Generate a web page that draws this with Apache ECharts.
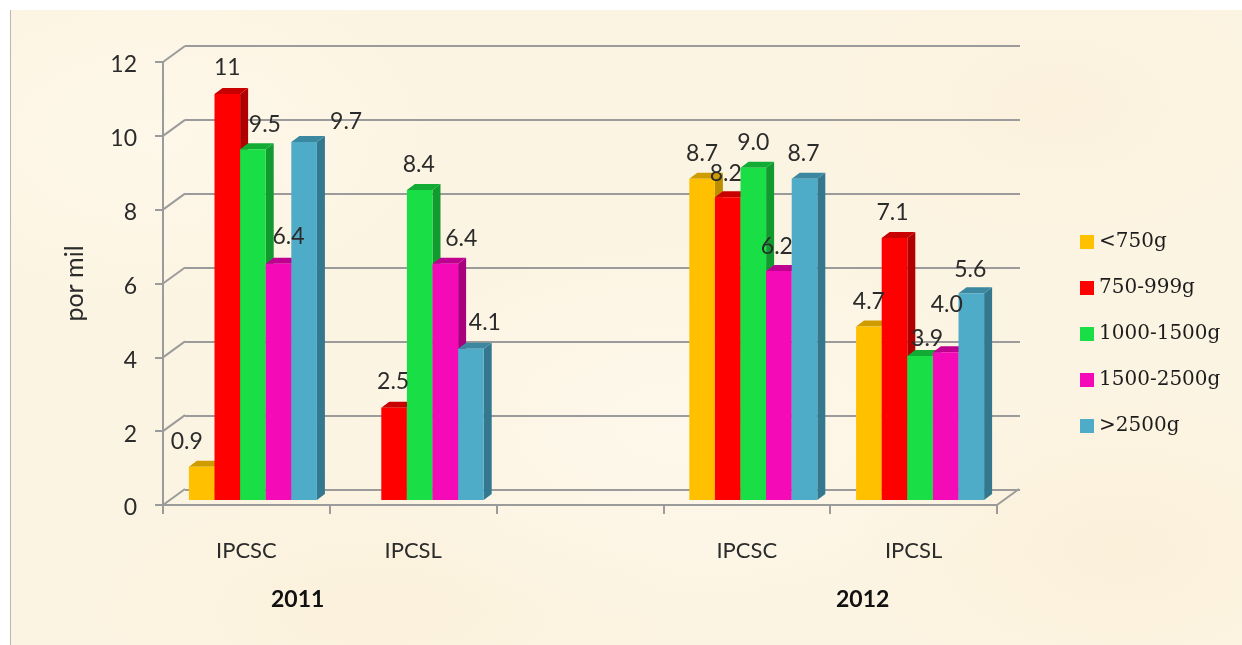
<!DOCTYPE html>
<html>
<head>
<meta charset="utf-8">
<title>por mil</title>
<script src="https://cdn.jsdelivr.net/npm/echarts@6/dist/echarts.min.js"></script>
<style>
  html, body { margin: 0; padding: 0; background: #fff; overflow: hidden; }
  #paper {
    position: absolute; left: 10px; top: 10px; width: 1232px; height: 635px;
    border-left: 1px solid #b9b6ae; box-sizing: border-box;
    background:
      radial-gradient(ellipse 300px 180px at 12% 20%, #fef8ea 0%, rgba(254,248,234,0) 100%),
      radial-gradient(ellipse 360px 200px at 55% 65%, #fef8ec 0%, rgba(254,248,236,0) 100%),
      radial-gradient(ellipse 280px 160px at 90% 85%, #fbf0da 0%, rgba(251,240,218,0) 100%),
      radial-gradient(ellipse 320px 140px at 30% 95%, #fbf1dc 0%, rgba(251,241,220,0) 100%),
      radial-gradient(ellipse 260px 160px at 85% 15%, #fbf1dd 0%, rgba(251,241,221,0) 100%),
      #fcf4e2;
  }
  #chart { position: absolute; left: 0; top: 0; width: 1242px; height: 645px; }
</style>
</head>
<body>
<div id="paper"></div>
<div id="chart"></div>
<script>
'use strict';

var categories = ['IPCSC', 'IPCSL', '', 'IPCSC', 'IPCSL'];
var yTicks = [0, 2, 4, 6, 8, 10, 12];
var weightClasses = ['<750g', '750-999g', '1000-1500g', '1500-2500g', '>2500g'];

var under750 = [0.9, null, null, 8.7, 4.7];
var from750 = [11, 2.5, null, 8.2, 7.1];
var from1000 = [9.5, 8.4, null, 9.0, 3.9];
var from1500 = [6.4, 6.4, null, 6.2, 4.0];
var over2500 = [9.7, 4.1, null, 8.7, 5.6];
var seriesValues = [under750, from750, from1000, from1500, over2500];

// front, top, side
var colors = [
  ['#ffc000', '#cf9c00', '#bd8f00'],
  ['#ff0000', '#c80000', '#b00000'],
  ['#1ade45', '#12ab34', '#119a2e'],
  ['#f50ab8', '#bd0090', '#a8007f'],
  ['#4facc9', '#3d88a1', '#347890']
];

// the labels in the picture are not all centred above their bars
var defaultLabelShift = [0, -25];
var labelShifts = {
  '0,0': [-15, -25],
  '1,0': [0, -26],
  '1,1': [-1, -26],
  '1,3': [-2, -24],
  '1,4': [-2, -25],
  '2,0': [12, -25],
  '2,1': [-1, -25],
  '2,4': [7, -17],
  '3,0': [10, -27],
  '3,1': [16, -25],
  '3,3': [-2, -25],
  '3,4': [1, -48],
  '4,0': [42, -20],
  '4,1': [14, -26],
  '4,3': [-1, -25],
  '4,4': [-1, -24]
};

var axisColor = '#9b9b9b';
var textColor = '#2b2b2b';
var barBaseLift = 5;      // bars stand a little behind the front axis
var barDepthX = 8;
var barDepthY = 6;
var wallDepthX = 22;
var wallDepthY = 16;

function pointsOf(seriesIndex) {
  var out = [];
  seriesValues[seriesIndex].forEach(function (v, i) {
    if (v !== null) out.push([i, v]);
  });
  return out;
}

function barRect(api, cat, value, seriesIndex) {
  var catW = api.size([1, 0])[0];
  var barW = catW * 0.1535;
  var center = api.coord([cat, 0])[0] + 6.5 + (seriesIndex - 2) * barW;
  return {
    x: center - barW / 2,
    w: barW,
    center: center,
    top: api.coord([cat, value])[1] - barBaseLift,
    base: api.coord([cat, 0])[1] - barBaseLift
  };
}

function makeBarRender(seriesIndex) {
  return function (params, api) {
    var r = barRect(api, api.value(0), api.value(1), seriesIndex);
    var c = colors[seriesIndex];
    return {
      type: 'group',
      children: [
        {
          type: 'polygon',
          shape: { points: [[r.x + r.w, r.top], [r.x + r.w + barDepthX, r.top - barDepthY], [r.x + r.w + barDepthX, r.base - barDepthY], [r.x + r.w, r.base]] },
          style: { fill: c[2] }
        },
        {
          type: 'polygon',
          shape: { points: [[r.x, r.top], [r.x + barDepthX, r.top - barDepthY], [r.x + r.w + barDepthX, r.top - barDepthY], [r.x + r.w, r.top]] },
          style: { fill: c[1] }
        },
        {
          type: 'rect',
          shape: { x: r.x, y: r.top, width: r.w, height: r.base - r.top },
          style: { fill: c[0] }
        }
      ]
    };
  };
}

function renderValueLabel(params, api) {
  var cat = api.value(0);
  var v = api.value(1);
  var s = api.value(2);
  var r = barRect(api, cat, v, s);
  var shift = labelShifts[s + ',' + cat] || defaultLabelShift;
  return {
    type: 'text',
    style: {
      text: v >= 10 ? String(v) : v.toFixed(1),
      x: r.center + shift[0],
      y: r.top + shift[1],
      align: 'center',
      verticalAlign: 'middle',
      font: '23px Lato',
      fill: textColor
    }
  };
}

// slanted side wall and floor edges joining the front axis to the back wall
function renderWallEdge(params, api) {
  var box = params.coordSys;
  var y = api.coord([0, api.value(0)])[1];
  var children = [{
    type: 'line',
    shape: { x1: box.x, y1: y, x2: box.x + wallDepthX, y2: y - wallDepthY },
    style: { stroke: axisColor, lineWidth: 2 }
  }];
  if (api.value(0) === 0) {
    children.push({
      type: 'line',
      shape: { x1: box.x + box.width, y1: y, x2: box.x + box.width + wallDepthX, y2: y - wallDepthY },
      style: { stroke: axisColor, lineWidth: 2 }
    });
  }
  return { type: 'group', children: children };
}

var barSeries = weightClasses.map(function (name, s) {
  return {
    name: name,
    type: 'custom',
    xAxisIndex: 0,
    yAxisIndex: 0,
    z: 5,
    itemStyle: { color: colors[s][0] },
    encode: { x: 0, y: 1 },
    renderItem: makeBarRender(s),
    data: pointsOf(s)
  };
});

var labelPoints = [];
seriesValues.forEach(function (vals, s) {
  pointsOf(s).forEach(function (p) {
    labelPoints.push([p[0], p[1], s]);
  });
});

var option = {
  animation: false,
  backgroundColor: 'transparent',
  textStyle: { fontFamily: 'Lato' },
  grid: [
    { left: 163, right: 245, top: 62, bottom: 140 },
    { left: 185, right: 222, top: 46, bottom: 155 }
  ],
  xAxis: [
    {
      type: 'category',
      gridIndex: 0,
      data: categories,
      axisLine: { lineStyle: { color: axisColor, width: 2 } },
      axisTick: { show: true, length: 9, lineStyle: { color: axisColor, width: 2 } },
      axisLabel: { interval: 0, margin: 35, fontSize: 22, color: textColor, fontFamily: 'Lato' }
    },
    {
      type: 'category',
      gridIndex: 1,
      data: categories,
      axisLine: { show: false },
      axisTick: { show: false },
      axisLabel: { show: false }
    }
  ],
  yAxis: [
    {
      type: 'value',
      gridIndex: 0,
      min: 0,
      max: 12,
      interval: 2,
      name: 'por mil',
      nameLocation: 'middle',
      nameRotate: 90,
      nameGap: 76,
      nameTextStyle: { fontSize: 25, color: textColor, fontFamily: 'Lato' },
      axisLine: { show: true, lineStyle: { color: axisColor, width: 2 } },
      axisTick: { show: true, length: 8, lineStyle: { color: axisColor, width: 2 } },
      axisLabel: {
        margin: 26,
        formatter: '{t|{value}}',
        rich: { t: { fontSize: 23, color: textColor, fontFamily: 'Lato', padding: [6, 0, 0, 0] } }
      },
      splitLine: { show: false }
    },
    {
      type: 'value',
      gridIndex: 1,
      min: 0,
      max: 12,
      interval: 2,
      axisLine: { show: false },
      axisTick: { show: false },
      axisLabel: { show: false },
      splitLine: { show: true, lineStyle: { color: axisColor, width: 2 } }
    }
  ],
  legend: {
    orient: 'vertical',
    left: 1075,
    top: 227,
    icon: 'rect',
    itemWidth: 14,
    itemHeight: 14,
    itemGap: 26,
    selectedMode: false,
    data: weightClasses,
    textStyle: { fontFamily: 'DejaVu Serif', fontSize: 20, color: '#1c1c1c' }
  },
  graphic: [
    { type: 'text', left: 271, top: 588, style: { text: '2011', font: 'bold 23px Lato', fill: '#111' } },
    { type: 'text', left: 836, top: 588, style: { text: '2012', font: 'bold 23px Lato', fill: '#111' } }
  ],
  series: [
    {
      type: 'custom',
      xAxisIndex: 0,
      yAxisIndex: 0,
      z: 3,
      silent: true,
      encode: { y: 0 },
      renderItem: renderWallEdge,
      data: yTicks.map(function (t) { return [t]; })
    }
  ].concat(barSeries, [
    {
      type: 'custom',
      xAxisIndex: 0,
      yAxisIndex: 0,
      z: 8,
      silent: true,
      encode: { x: 0, y: 1 },
      renderItem: renderValueLabel,
      data: labelPoints
    }
  ])
};

var myChart = echarts.init(document.getElementById('chart'));
myChart.setOption(option);
</script>
</body>
</html>
